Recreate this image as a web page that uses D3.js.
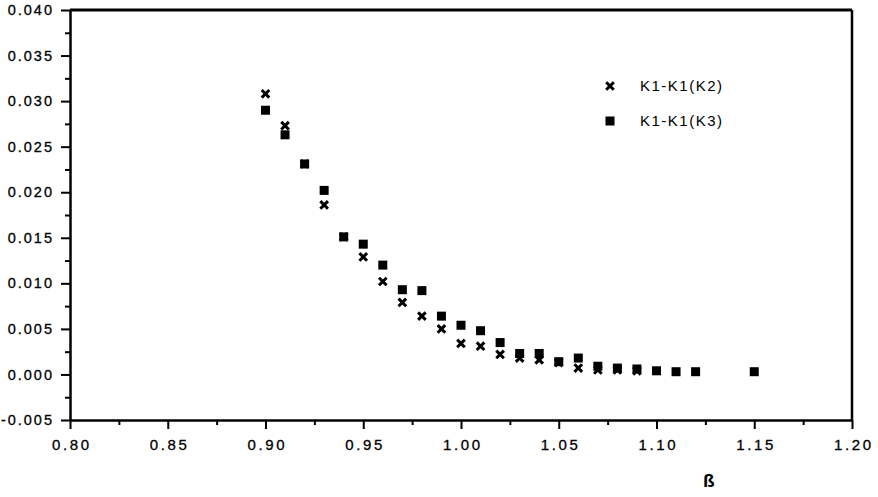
<!DOCTYPE html>
<html>
<head>
  <meta charset="utf-8">
  <title>K1-K1 scatter</title>
  <script src="https://d3js.org/d3.v7.min.js"></script>
  <style>
    body { margin: 0; background: #fff; }
    svg { display: block; font-family: "Liberation Sans", Arial, sans-serif; }
    .legend text { font-size: 15px; letter-spacing: 1.5px; }
  </style>
</head>
<body>
  <script>
    // Data
    var betaK2 = [0.90, 0.91, 0.92, 0.93, 0.94, 0.95, 0.96, 0.97, 0.98, 0.99, 1.00,
                  1.01, 1.02, 1.03, 1.04, 1.05, 1.06, 1.07, 1.08, 1.09];
    var valK2  = [0.0308, 0.0273, 0.0231, 0.0186, 0.0151, 0.0129, 0.0102, 0.0079, 0.0064, 0.0050, 0.0034,
                  0.0031, 0.0022, 0.0018, 0.0016, 0.0013, 0.0007, 0.0005, 0.0005, 0.0004];

    var betaK3 = [0.90, 0.91, 0.92, 0.93, 0.94, 0.95, 0.96, 0.97, 0.98, 0.99, 1.00,
                  1.01, 1.02, 1.03, 1.04, 1.05, 1.06, 1.07, 1.08, 1.09, 1.10, 1.11, 1.12, 1.15];
    var valK3  = [0.0290, 0.0263, 0.0231, 0.0202, 0.0151, 0.0143, 0.0120, 0.0093, 0.0092, 0.0064, 0.0054,
                  0.0048, 0.0035, 0.0023, 0.0023, 0.0014, 0.0018, 0.0009, 0.0007, 0.0006, 0.0004, 0.0003, 0.0003, 0.0003];

    var xTicks = [0.80, 0.85, 0.90, 0.95, 1.00, 1.05, 1.10, 1.15, 1.20];
    var yTicks = [-0.005, 0.000, 0.005, 0.010, 0.015, 0.020, 0.025, 0.030, 0.035, 0.040];
    var seriesNames = ["K1-K1(K2)", "K1-K1(K3)"];
    var xTitle = "ß";

    var margin = {top: 10, right: 26, bottom: 77, left: 70};
    var width = 878 - margin.left - margin.right;
    var height = 497 - margin.top - margin.bottom;

    var svg = d3.select("body")
      .append("svg")
      .attr("width", 878)
      .attr("height", 497)
      .append("g")
      .attr("transform", "translate(" + margin.left + "," + margin.top + ")");

    // Scales
    var x = d3.scaleLinear().domain([0.80, 1.20]).range([0, width]);
    var y = d3.scaleLinear().domain([-0.005, 0.040]).range([height, 0]);

    // minor ticks halfway between labelled ones
    var xMinor = xTicks.slice(1).map(function(d, i) { return (d + xTicks[i]) / 2; });
    var yMinor = yTicks.slice(1).map(function(d, i) { return (d + yTicks[i]) / 2; });

    function styleLabels(sel, size, spacing) {
      sel.attr("font-family", "'Liberation Sans', Arial, sans-serif")
        .attr("font-size", size)
        .attr("letter-spacing", spacing)
        .attr("fill", "#000")
        .attr("stroke", "#000")
        .attr("stroke-width", 0.3);
    }

    // Axes
    svg.append("g")
      .attr("transform", "translate(0," + height + ")")
      .call(d3.axisBottom(x).tickValues(xMinor).tickSize(5).tickFormat(""))
      .call(function(g) { g.select(".domain").remove(); })
      .selectAll("line").attr("stroke-width", 2);

    var xa = svg.append("g")
      .attr("transform", "translate(0," + height + ")")
      .call(d3.axisBottom(x).tickValues(xTicks).tickSize(9).tickSizeOuter(0)
        .tickFormat(function(d) { return d.toFixed(2); }));
    xa.select(".domain").attr("stroke-width", 2.5);
    xa.selectAll("line").attr("stroke-width", 2);
    xa.selectAll("text").attr("y", 30).attr("dy", 0).attr("dx", 1.3).call(styleLabels, 15, 2.6);

    svg.append("g")
      .call(d3.axisLeft(y).tickValues(yMinor).tickSize(5).tickFormat(""))
      .call(function(g) { g.select(".domain").remove(); })
      .selectAll("line").attr("stroke-width", 2);

    var ya = svg.append("g")
      .call(d3.axisLeft(y).tickValues(yTicks).tickSize(9).tickSizeOuter(0)
        .tickFormat(function(d) { return d.toFixed(3); }));
    ya.select(".domain").attr("stroke-width", 2.5);
    ya.selectAll("line").attr("stroke-width", 2);
    ya.selectAll("text").attr("x", -16).call(styleLabels, 14.5, 2);

    // top and right frame
    svg.append("line")
      .attr("x1", 0).attr("x2", width).attr("y1", 0).attr("y2", 0)
      .attr("stroke", "#000").attr("stroke-width", 3);
    svg.append("line")
      .attr("x1", width).attr("x2", width).attr("y1", 0).attr("y2", height)
      .attr("stroke", "#000").attr("stroke-width", 2.5);

    // X marker path
    function cross(s) {
      return "M" + (-s) + "," + (-s) + "L" + s + "," + s + "M" + (-s) + "," + s + "L" + s + "," + (-s);
    }

    // K3 squares
    svg.append("g").selectAll("rect")
      .data(betaK3.map(function(b, i) { return [b, valK3[i]]; }))
      .enter().append("rect")
      .attr("x", function(d) { return x(d[0]) - 4.5; })
      .attr("y", function(d) { return y(d[1]) - 4.5; })
      .attr("width", 9)
      .attr("height", 9)
      .attr("fill", "#000");

    // K2 crosses
    svg.append("g").selectAll("path")
      .data(betaK2.map(function(b, i) { return [b, valK2[i]]; }))
      .enter().append("path")
      .attr("transform", function(d) { return "translate(" + x(d[0]) + "," + y(d[1]) + ")"; })
      .attr("d", cross(3.8))
      .attr("stroke", "#000")
      .attr("stroke-width", 3)
      .attr("fill", "none");

    // Legend
    var legend = svg.append("g").attr("class", "legend");
    legend.append("path")
      .attr("transform", "translate(540,76)")
      .attr("d", cross(3.8))
      .attr("stroke", "#000")
      .attr("stroke-width", 3);
    legend.append("text").attr("x", 570).attr("y", 81).text(seriesNames[0]);
    legend.append("rect")
      .attr("x", 535.5).attr("y", 106.5).attr("width", 9).attr("height", 9)
      .attr("fill", "#000");
    legend.append("text").attr("x", 570).attr("y", 116).text(seriesNames[1]);

    // axis title
    svg.append("text")
      .attr("x", 633)
      .attr("y", height + 67)
      .style("font-size", "19px")
      .style("font-weight", "bold")
      .text(xTitle);
  </script>
</body>
</html>
